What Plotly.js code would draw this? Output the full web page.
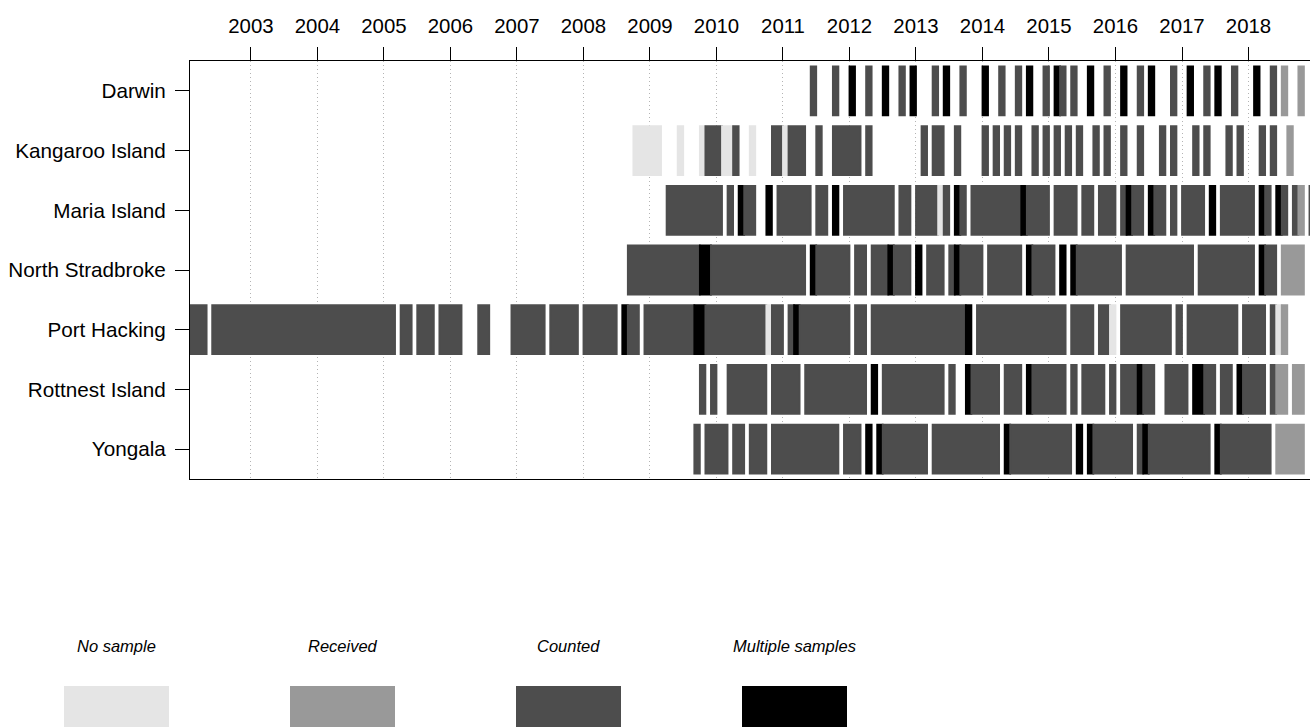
<!DOCTYPE html>
<html>
<head>
<meta charset="utf-8">
<script src="https://cdn.plot.ly/plotly-3.0.1.min.js"></script>
<style>
  html, body { margin: 0; padding: 0; overflow: hidden; background: #fff; }
  #chart { width: 1340px; height: 727px; }
</style>
</head>
<body>
<div id="chart"></div>
<script>
// Station names, top to bottom
const stations = ['Darwin', 'Kangaroo Island', 'Maria Island', 'North Stradbroke',
                  'Port Hacking', 'Rottnest Island', 'Yongala'];

// Monthly sample status, one 12-character string per year (Jan..Dec)
// '.' = nothing, n = no sample, r = received, c = counted, m = multiple samples
const darwin = {
  2011: '.....c...c..', 2012: 'm..c..m..c.m', 2013: '...c.m..c...', 2014: 'm..c..c.m..c',
  2015: '.mc.c..m..c.', 2016: '.m..c.m...c.', 2017: '.m..c.m..c..', 2018: '.m..c.r..r..'
};
const kangarooIsland = {
  2008: '.........nnn', 2009: 'nn...n...ncc', 2010: 'cnnc..n...cc', 2011: 'nccc..c..ccc',
  2012: 'cc.c........', 2013: '.c.cc..c....', 2014: 'c.c.c.c..c.c', 2015: '.c.c.c..c.c.',
  2016: '.c..c...c.c.', 2017: '..c.c...c.c.', 2018: '..c.c..r....'
};
const mariaIsland = {
  2009: '...ccccccccc', 2010: 'c.c.mcc..m.c', 2011: 'ccccc.cc.m.c', 2012: 'cccccccc.cc.',
  2013: 'ccccnc.mc.cc', 2014: 'cccccccmcccc', 2015: '.cccc.cc.ccc', 2016: '.cmcc.mcc.c.',
  2017: 'cccc.m.ccccc', 2018: 'c.mc.mc.cr.c'
};
const northStradbroke = {
  2008: '........cccc', 2009: 'cccccccccmmc', 2010: 'cccccccccccc', 2011: 'cccc.mcccccc',
  2012: '.cc.cccmccc.', 2013: 'm.ccc.cmcccc', 2014: '.cccccc.mccc', 2015: 'c.m.mccccccc',
  2016: 'c.cccccccccc', 2017: 'cc.ccccccccc', 2018: 'c.mcc.rrrr..'
};
const portHacking = {
  2002: '.ccc.ccccccc', 2003: 'cccccccccccc', 2004: 'cccccccccccc', 2005: 'cc.cc.ccc.cc',
  2006: 'cc...cc....c', 2007: 'ccccc.ccccc.', 2008: 'cccccc.mcc.c', 2009: 'ccccccccmmcc',
  2010: 'cccccccccncc', 2011: '.cmccccccccc', 2012: '.cc.cccccccc', 2013: 'cccccccccm.c',
  2014: 'cccccccccccc', 2015: 'ccc.cccc.ccn', 2016: '.ccccccccc.c', 2017: '.ccccccccc.c',
  2018: 'ccc.cnr.....'
};
const rottnestIsland = {
  2009: '.........c.c', 2010: '..ccccccc.cc', 2011: 'ccc.cccccccc', 2012: 'ccc.m.cccccc',
  2013: 'ccccc.c..mcc', 2014: 'ccc.ccc.mccc', 2015: 'ccc.c.cccc.c', 2016: '.cccmcc..ccc',
  2017: 'c.mmcc.cc.mc', 2018: 'ccc.crr.rr..'
};
const yongala = {
  2009: '........c.cc', 2010: 'cc.cc.ccc.cc', 2011: 'cccccccccc.c', 2012: 'cc.m.mcccccc',
  2013: 'cc.ccccccccc', 2014: 'ccc.mccccccc', 2015: 'cccc.m.mcccc', 2016: 'ccc.cmcccccc',
  2017: 'ccccc.mccccc', 2018: 'cccc.rrrrr..'
};
const stationMonths = [darwin, kangarooIsland, mariaIsland, northStradbroke,
                       portHacking, rottnestIsland, yongala];

// Status legend
const statusCodes  = ['n', 'r', 'c', 'm'];
const statusLabels = ['No sample', 'Received', 'Counted', 'Multiple samples'];
const statusColors = ['#e5e5e5', '#999999', '#4d4d4d', '#000000'];

// Year ticks along the top axis
const yearTicks = [2003, 2004, 2005, 2006, 2007, 2008, 2009, 2010,
                   2011, 2012, 2013, 2014, 2015, 2016, 2017, 2018];

// Collapse consecutive months with the same status into runs
const barY = [], barBase = [], barLen = [], barColor = [];
stationMonths.forEach((months, row) => {
  let cur = null;
  const flush = () => {
    if (cur) {
      barY.push(row);
      barBase.push(cur.start);
      barLen.push(cur.count / 12);
      barColor.push(statusColors[statusCodes.indexOf(cur.code)]);
    }
    cur = null;
  };
  Object.keys(months).map(Number).sort((a, b) => a - b).forEach(year => {
    const s = months[year];
    for (let mo = 0; mo < 12; mo++) {
      const code = s[mo];
      const t = year + mo / 12;
      if (code === '.') { flush(); continue; }
      if (cur && cur.code === code && Math.abs(cur.start + cur.count / 12 - t) < 1e-6) {
        cur.count++;
      } else {
        flush();
        cur = { code: code, start: t, count: 1 };
      }
    }
  });
  flush();
});

const FONT = 'Liberation Sans, Arial, Helvetica, sans-serif';
const M = { l: 190, t: 61, w: 1125, h: 418 };
const W = 1340, H = 727;

const trace = {
  type: 'bar',
  orientation: 'h',
  y: barY,
  x: barLen,
  base: barBase,
  width: 0.82,
  marker: { color: barColor, line: { color: barColor, width: 1.8 } },
  hoverinfo: 'skip',
  showlegend: false
};

// Legend blocks below the plot, laid out in pixels and converted to paper units
const px2x = px => (px - M.l) / M.w;
const px2y = py => (M.t + M.h - py) / M.h;
const legendCenters = [116.5, 342.5, 568.5, 794.5];
const shapes = [], annotations = [];
statusLabels.forEach((label, i) => {
  const cx = legendCenters[i];
  shapes.push({
    type: 'rect', xref: 'paper', yref: 'paper',
    x0: px2x(cx - 52.5), x1: px2x(cx + 52.5), y0: px2y(686), y1: px2y(760),
    fillcolor: statusColors[i], line: { width: 0 }, layer: 'above'
  });
  annotations.push({
    xref: 'paper', yref: 'paper', x: px2x(cx), y: px2y(646),
    xanchor: 'center', yanchor: 'middle', showarrow: false,
    text: '<i>' + label + '</i>',
    font: { family: FONT, size: 16.5, color: '#000' }
  });
});

const layout = {
  width: W, height: H,
  margin: { l: M.l, r: W - M.l - M.w, t: M.t, b: H - M.t - M.h, pad: 0 },
  paper_bgcolor: '#fff', plot_bgcolor: '#fff',
  barmode: 'overlay',
  showlegend: false,
  xaxis: {
    range: [2002 + 1 / 12, 2019],
    side: 'top',
    tickmode: 'array', tickvals: yearTicks, ticktext: yearTicks.map(String),
    ticks: 'outside', ticklen: 13, tickwidth: 1, tickcolor: '#000',
    ticklabelstandoff: 6,
    tickfont: { family: FONT, size: 20.4, color: '#000' },
    showgrid: true, gridcolor: '#b4b4b4', griddash: '1px,3px', gridwidth: 1,
    showline: true, linecolor: '#000', linewidth: 1, mirror: true,
    zeroline: false, fixedrange: true
  },
  yaxis: {
    range: [6.5, -0.5],
    tickmode: 'array', tickvals: stations.map((_, i) => i), ticktext: stations,
    ticks: 'outside', ticklen: 14, tickwidth: 1, tickcolor: '#000',
    ticklabelstandoff: 5,
    tickfont: { family: FONT, size: 20.7, color: '#000' },
    showgrid: false,
    showline: true, linecolor: '#000', linewidth: 1, mirror: true,
    zeroline: false, fixedrange: true
  },
  shapes: shapes,
  annotations: annotations
};

Plotly.newPlot('chart', [trace], layout, { displayModeBar: false, staticPlot: true });
</script>
</body>
</html>
